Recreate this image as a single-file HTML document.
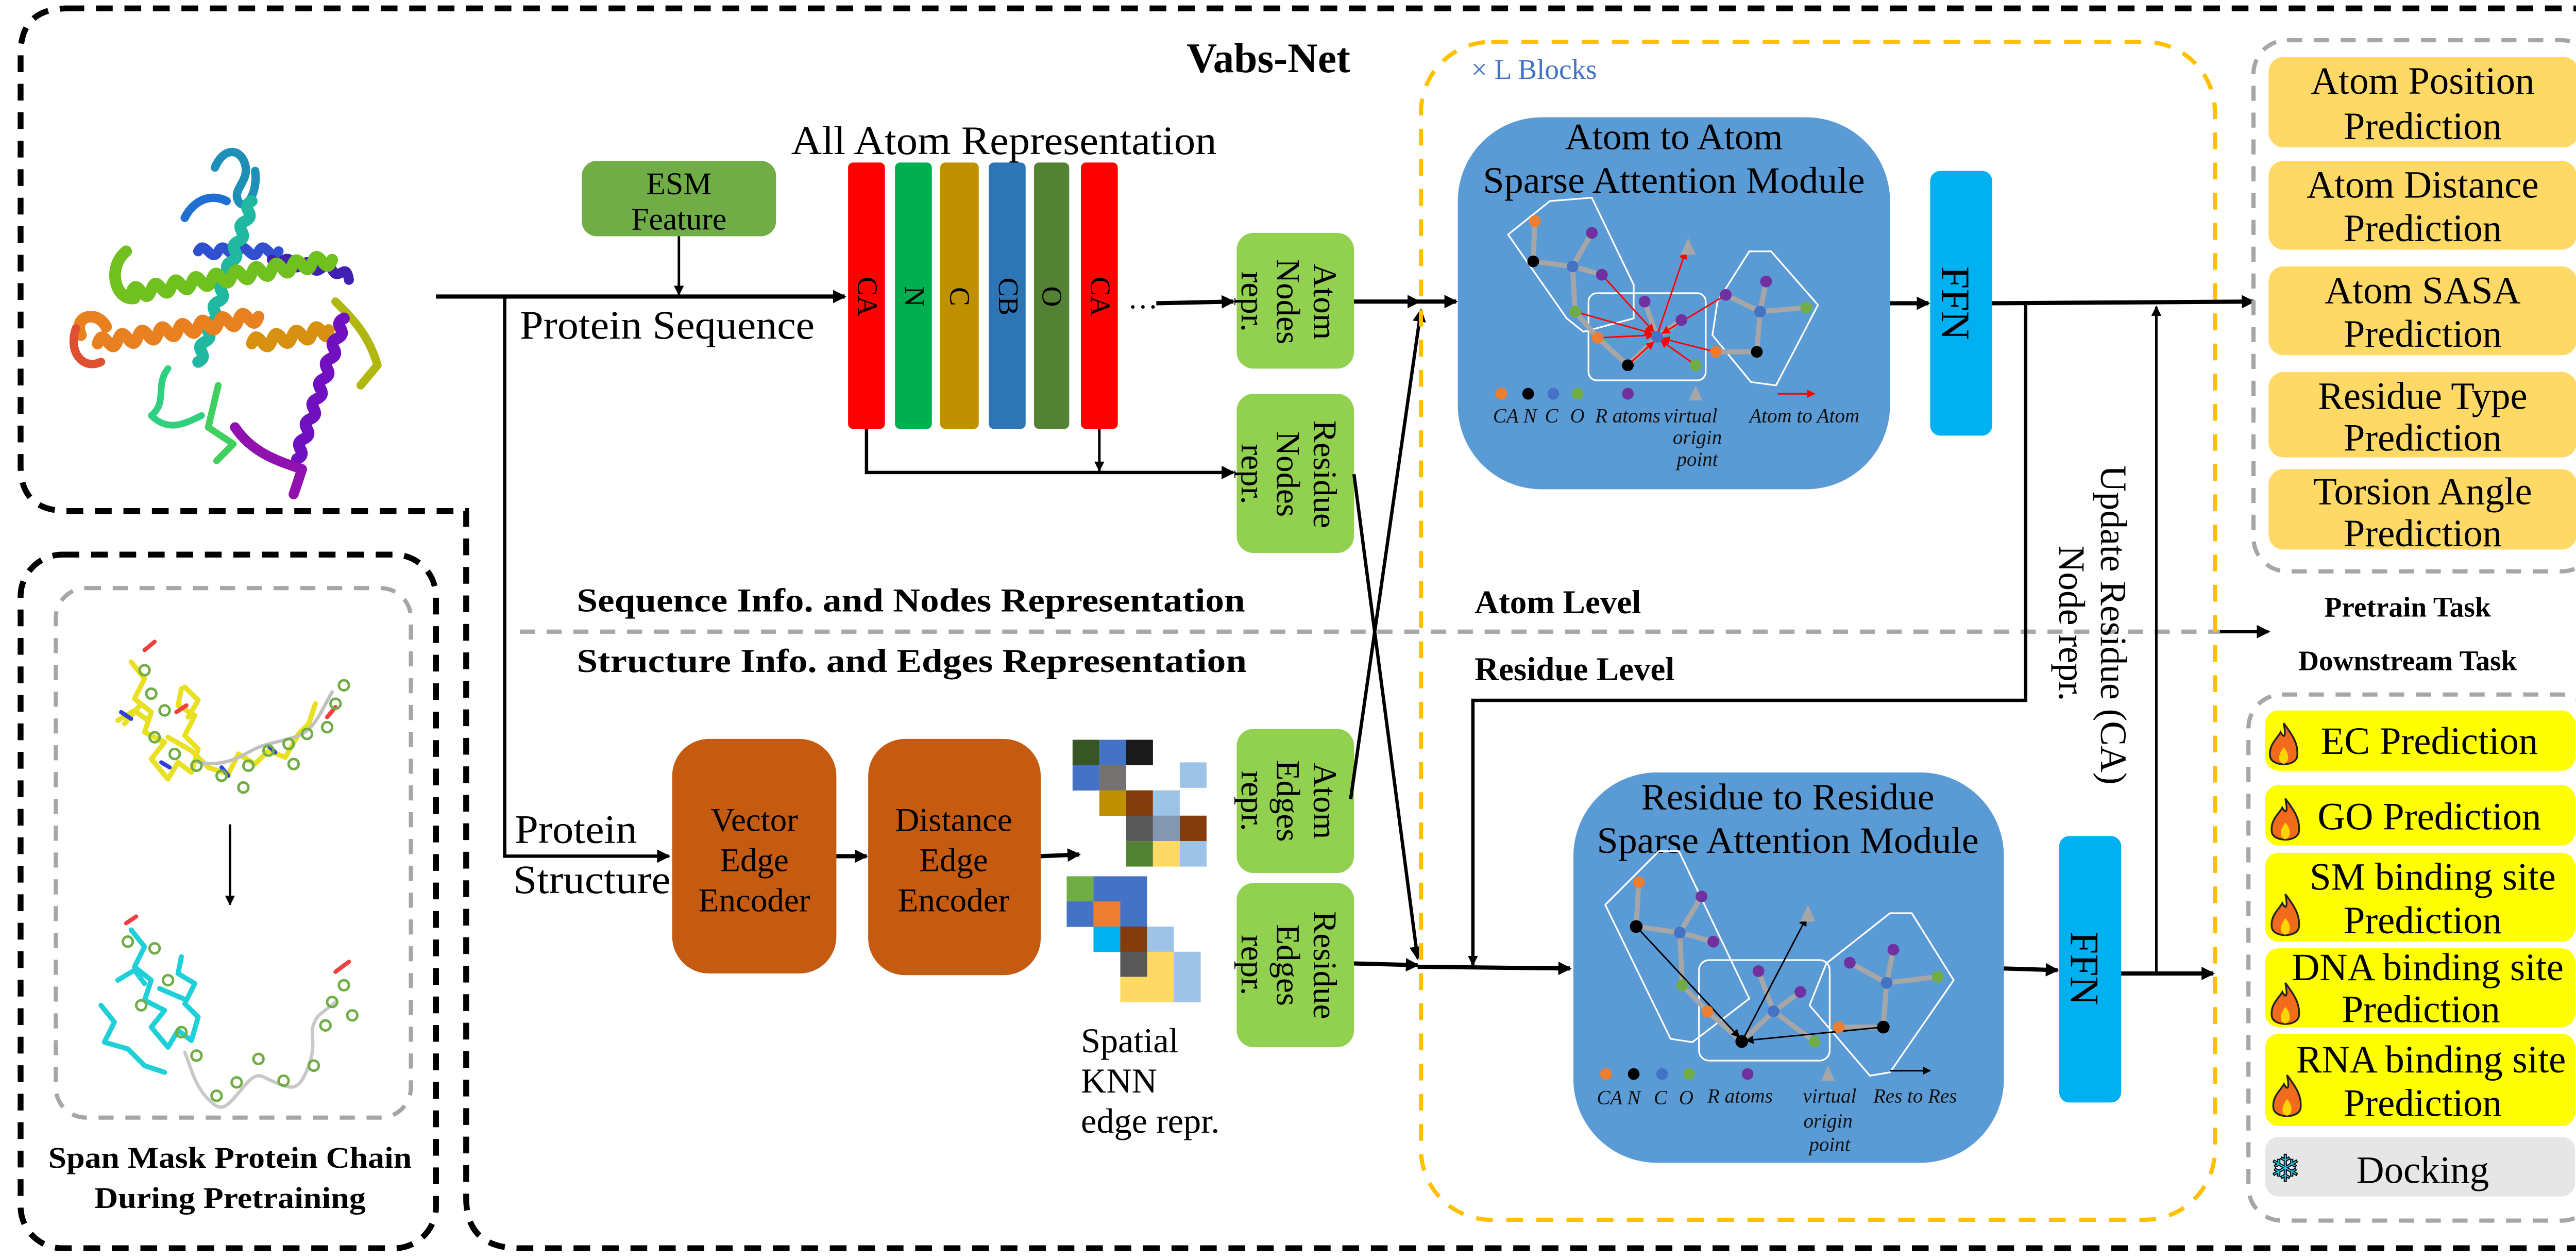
<!DOCTYPE html>
<html><head><meta charset="utf-8"><style>
html,body{margin:0;padding:0;background:#fff;}
svg{display:block;}
text{font-family:"Liberation Serif",serif;}
.b{font-weight:bold;}
.it{font-style:italic;font-size:12px;fill:#111;}
</style></head><body>
<svg width="5100" height="2445" viewBox="0 0 1568 752" xmlns="http://www.w3.org/2000/svg">
<defs>
<marker id="ah" markerWidth="8" markerHeight="8" refX="7" refY="4" orient="auto" markerUnits="userSpaceOnUse"><path d="M0,0 L8,4 L0,8 Z" fill="#000"/></marker>
<marker id="ahs" markerWidth="6" markerHeight="6" refX="5.5" refY="3" orient="auto" markerUnits="userSpaceOnUse"><path d="M0,0 L6,3 L0,6 Z" fill="#000"/></marker>
<marker id="ahr" markerWidth="5" markerHeight="5" refX="4.5" refY="2.5" orient="auto" markerUnits="userSpaceOnUse"><path d="M0,0 L5,2.5 L0,5 Z" fill="#f00"/></marker>
<marker id="ahk" markerWidth="5" markerHeight="5" refX="4.5" refY="2.5" orient="auto" markerUnits="userSpaceOnUse"><path d="M0,0 L5,2.5 L0,5 Z" fill="#000"/></marker>
<g id="fire"><path d="M0,-16 C6,-8 10,-2 9,6 C8,13 -8,13 -9,6 C-10,-2 -4,-6 -2,-10 C0,-6 2,-6 0,-16 Z" fill="#f26a1b" stroke="#222" stroke-width="1.2"/><path d="M0,0 C4,4 4,10 0,11 C-4,10 -4,5 0,0 Z" fill="#ffd400"/></g>
</defs>

<path d="M40,5 H1535 Q1562,5 1562,35 V718 Q1562,745 1535,745 H310 Q278,745 278,715 V305 H40 Q12,305 12,278 V32 Q12,5 40,5 Z" fill="none" stroke="#000" stroke-width="3.5" stroke-dasharray="10,7"/>
<rect x="12" y="331" width="248" height="414" rx="25" fill="none" stroke="#000" stroke-width="3.5" stroke-dasharray="10,7"/>
<rect x="33" y="351" width="212" height="316" rx="18" fill="none" stroke="#a6a6a6" stroke-width="2.5" stroke-dasharray="9,7"/>

<text x="757" y="43" class="b" font-size="25" text-anchor="middle">Vabs-Net</text>

<!-- protein cartoon -->
<g fill="none" stroke-width="5" stroke-linecap="round" stroke-linejoin="round">
<path d="M128,100 c5,-12 15,-12 18,-2 s-8,15 -4,22 s12,-5 10,-18" stroke="#1f8fb8"/>
<path d="M110,130 c5,-10 15,-15 25,-10" stroke="#1f6fd0"/>
<path d="M118,150 c4,-8 8,8 12,0 s8,8 12,0 s8,8 12,0 s8,8 12,0" stroke="#3050d0" stroke-width="6"/>
<path d="M150,120 c-8,4 4,8 -4,12 s4,8 -4,12 s4,8 -4,12 s4,8 -4,12 s4,8 -4,12 s4,8 -4,12 s4,8 -4,12 s4,8 -4,12" stroke="#20b8a0" stroke-width="7"/>
<path d="M162,155 c4,8 8,-6 12,2 s8,-6 12,2 s8,-6 12,2 s8,-6 10,6" stroke="#4020b0" stroke-width="6"/>
<path d="M75,150 c-12,10 -6,30 5,28 M78,175 c4,-12 8,10 12,-2 s8,10 12,-2 s8,10 12,-2 s8,10 12,-2 s8,10 12,-2 s8,10 12,-2 s8,10 12,-2 s8,10 12,-2 s8,10 12,-2 s8,10 12,-2" stroke="#70c020" stroke-width="7"/>
<path d="M200,180 c10,10 20,20 25,38 l-10,12" stroke="#b0b810" stroke-width="5"/>
<path d="M48,200 c-5,-12 10,-15 15,-5 M58,205 c4,-12 8,10 12,-2 s8,10 12,-2 s8,10 12,-2 s8,10 12,-2 s8,10 12,-2 s8,10 12,-2 s8,10 12,-2 s8,10 12,-2" stroke="#e88020" stroke-width="7"/>
<path d="M45,196 c-5,15 5,25 15,20" stroke="#e05030" stroke-width="5"/>
<path d="M150,205 c4,-12 8,10 12,-2 s8,10 12,-2 s8,10 12,-2 s8,10 10,-2" stroke="#d89010" stroke-width="7"/>
<path d="M205,190 c-8,4 4,8 -4,12 s4,8 -4,12 s4,8 -4,12 s4,8 -4,12 s4,8 -4,12 s4,8 -4,12 s4,8 -4,12" stroke="#7010c0" stroke-width="7"/>
<path d="M140,255 c10,15 25,20 40,25 l-5,15" stroke="#9010b0" stroke-width="6"/>
<path d="M100,220 c-8,10 0,20 -10,28 c10,10 20,5 30,0" stroke="#30d080" stroke-width="4"/>
<path d="M130,230 l-6,25 l15,10 l-10,10" stroke="#40d060" stroke-width="4"/>
</g>

<line x1="260" y1="177" x2="504" y2="177" stroke="#000" stroke-width="2.5" marker-end="url(#ah)"/>
<polyline points="301,177 301,511 399,511" fill="none" stroke="#000" stroke-width="2" marker-end="url(#ah)"/>
<rect x="347" y="96" width="116" height="45" rx="9" fill="#70ad47"/>
<text x="405" y="116" font-size="19" text-anchor="middle">ESM</text>
<text x="405" y="137" font-size="19" text-anchor="middle">Feature</text>
<line x1="405" y1="141" x2="405" y2="176" stroke="#000" stroke-width="1.5" marker-end="url(#ahs)"/>
<text x="310" y="202" font-size="24" textLength="176" lengthAdjust="spacingAndGlyphs">Protein Sequence</text>
<text x="472" y="92" font-size="24" textLength="254" lengthAdjust="spacingAndGlyphs">All Atom Representation</text>

<rect x="506" y="97" width="22" height="159" rx="3" fill="#ff0000"/>
<rect x="534" y="97" width="22" height="159" rx="3" fill="#00b050"/>
<rect x="561" y="97" width="23" height="159" rx="3" fill="#bf9000"/>
<rect x="590" y="97" width="22" height="159" rx="3" fill="#2e75b6"/>
<rect x="617" y="97" width="21" height="159" rx="3" fill="#548235"/>
<rect x="645" y="97" width="22" height="159" rx="3" fill="#ff0000"/>
<g font-size="17">
<text transform="translate(512,177) rotate(90)" text-anchor="middle">CA</text>
<text transform="translate(540,177) rotate(90)" text-anchor="middle">N</text>
<text transform="translate(567,177) rotate(90)" text-anchor="middle">C</text>
<text transform="translate(596,177) rotate(90)" text-anchor="middle">CB</text>
<text transform="translate(622,177) rotate(90)" text-anchor="middle">O</text>
<text transform="translate(651,177) rotate(90)" text-anchor="middle">CA</text>
</g>
<text x="673" y="184" font-size="18">…</text>
<line x1="690" y1="181" x2="736" y2="180" stroke="#000" stroke-width="2.5" marker-end="url(#ah)"/>
<polyline points="517,256 517,282 736,282" fill="none" stroke="#000" stroke-width="2" marker-end="url(#ah)"/>
<line x1="656" y1="256" x2="656" y2="281" stroke="#000" stroke-width="1.5" marker-end="url(#ahs)"/>

<g fill="#92d050">
<rect x="738" y="139" width="70" height="81" rx="10"/>
<rect x="738" y="235" width="70" height="95" rx="10"/>
<rect x="738" y="435" width="70" height="86" rx="10"/>
<rect x="738" y="527" width="70" height="98" rx="10"/>
</g>
<g font-size="20" text-anchor="middle">
<text transform="translate(784,180) rotate(90)">Atom</text>
<text transform="translate(762,180) rotate(90)">Nodes</text>
<text transform="translate(741,180) rotate(90)">repr.</text>
<text transform="translate(784,283) rotate(90)">Residue</text>
<text transform="translate(762,283) rotate(90)">Nodes</text>
<text transform="translate(741,283) rotate(90)">repr.</text>
<text transform="translate(784,478) rotate(90)">Atom</text>
<text transform="translate(762,478) rotate(90)">Edges</text>
<text transform="translate(741,478) rotate(90)">repr.</text>
<text transform="translate(784,576) rotate(90)">Residue</text>
<text transform="translate(762,576) rotate(90)">Edges</text>
<text transform="translate(741,576) rotate(90)">repr.</text>
</g>

<text x="344" y="365" class="b" font-size="20" textLength="399" lengthAdjust="spacingAndGlyphs">Sequence Info. and Nodes Representation</text>
<line x1="310" y1="377" x2="1325" y2="377" stroke="#a6a6a6" stroke-width="2.5" stroke-dasharray="9,7"/>
<line x1="1325" y1="377" x2="1354" y2="377" stroke="#000" stroke-width="2" marker-end="url(#ah)"/>
<text x="344" y="401" class="b" font-size="20" textLength="400" lengthAdjust="spacingAndGlyphs">Structure Info. and Edges Representation</text>

<text x="307" y="503" font-size="24" textLength="73" lengthAdjust="spacingAndGlyphs">Protein</text>
<text x="306" y="533" font-size="24" textLength="94" lengthAdjust="spacingAndGlyphs">Structure</text>

<rect x="401" y="441" width="98" height="140" rx="22" fill="#c55a11"/>
<rect x="518" y="441" width="103" height="141" rx="22" fill="#c55a11"/>
<g font-size="20" text-anchor="middle">
<text x="450" y="496">Vector</text><text x="450" y="520">Edge</text><text x="450" y="544">Encoder</text>
<text x="569" y="496">Distance</text><text x="569" y="520">Edge</text><text x="569" y="544">Encoder</text>
</g>
<line x1="499" y1="511" x2="517" y2="511" stroke="#000" stroke-width="2.5" marker-end="url(#ah)"/>
<line x1="621" y1="511" x2="644" y2="510" stroke="#000" stroke-width="2.5" marker-end="url(#ah)"/>

<g>
<rect x="640" y="441.5" width="16" height="15.2" fill="#375623"/><rect x="656" y="441.5" width="16" height="15.2" fill="#4472c4"/><rect x="672" y="441.5" width="16" height="15.2" fill="#1a1a1a"/>
<rect x="640" y="456.6" width="16" height="15.2" fill="#4472c4"/><rect x="656" y="456.6" width="16" height="15.2" fill="#767171"/><rect x="704" y="455" width="16" height="15.2" fill="#9dc3e6"/>
<rect x="656" y="471.7" width="16" height="15.2" fill="#bf9000"/><rect x="672" y="471.7" width="16" height="15.2" fill="#843c0c"/><rect x="688" y="471.7" width="16" height="15.2" fill="#9dc3e6"/>
<rect x="672" y="486.8" width="16" height="15.2" fill="#595959"/><rect x="688" y="486.8" width="16" height="15.2" fill="#8497b0"/><rect x="704" y="486.8" width="16" height="15.2" fill="#843c0c"/>
<rect x="672" y="502" width="16" height="15.2" fill="#548235"/><rect x="688" y="502" width="16" height="15.2" fill="#ffd966"/><rect x="704" y="502" width="16" height="15.2" fill="#9dc3e6"/>
<rect x="636.5" y="523" width="16" height="15.2" fill="#70ad47"/><rect x="652.5" y="523" width="32" height="15.2" fill="#4472c4"/>
<rect x="636.5" y="538" width="16" height="15.2" fill="#4472c4"/><rect x="652.5" y="538" width="16" height="15.2" fill="#ed7d31"/><rect x="668.5" y="538" width="16" height="15.2" fill="#4472c4"/>
<rect x="652.5" y="553" width="16" height="15.2" fill="#00b0f0"/><rect x="668.5" y="553" width="16" height="15.2" fill="#843c0c"/><rect x="684.5" y="553" width="16" height="15.2" fill="#9dc3e6"/>
<rect x="668.5" y="568" width="16" height="15.2" fill="#595959"/><rect x="684.5" y="568" width="16" height="15.2" fill="#ffd966"/><rect x="700.5" y="568" width="16" height="15.2" fill="#9dc3e6"/>
<rect x="668.5" y="583" width="32" height="15.2" fill="#ffd966"/><rect x="700.5" y="583" width="16" height="15.2" fill="#9dc3e6"/>
</g>
<g font-size="21">
<text x="645" y="628">Spatial</text><text x="645" y="652">KNN</text><text x="645" y="676">edge repr.</text>
</g>

<line x1="808" y1="180" x2="847" y2="180" stroke="#000" stroke-width="2.5" marker-end="url(#ah)"/>
<line x1="847" y1="180" x2="869" y2="180" stroke="#000" stroke-width="2.5" marker-end="url(#ah)"/>
<line x1="808" y1="283" x2="846" y2="572" stroke="#000" stroke-width="2" marker-end="url(#ah)"/>
<line x1="806" y1="477" x2="848" y2="185" stroke="#000" stroke-width="2" marker-end="url(#ah)"/>
<line x1="808" y1="575" x2="846" y2="576" stroke="#000" stroke-width="2.5" marker-end="url(#ah)"/>
<line x1="846" y1="577" x2="937" y2="578" stroke="#000" stroke-width="2.5" marker-end="url(#ah)"/>

<rect x="848" y="25" width="474" height="703" rx="42" fill="none" stroke="#ffc000" stroke-width="2.5" stroke-dasharray="10,8"/>
<text x="878" y="47" font-size="17" fill="#4472c4">× L Blocks</text>
<text x="880" y="366" class="b" font-size="20">Atom Level</text>
<text x="880" y="406" class="b" font-size="20">Residue Level</text>

<!-- atom module -->
<rect x="870" y="70" width="258" height="222" rx="50" fill="#5b9bd5"/>
<text x="999" y="89" font-size="22" text-anchor="middle" textLength="130" lengthAdjust="spacingAndGlyphs">Atom to Atom</text>
<text x="999" y="115" font-size="22" text-anchor="middle" textLength="228" lengthAdjust="spacingAndGlyphs">Sparse Attention Module</text>
<g fill="none" stroke="#fff" stroke-width="1" stroke-linejoin="round">
<path d="M925,120 L950,118 L975,170 L975,190 L945,198 L935,190 L900,140 Z"/>
<rect x="948" y="175" width="70" height="52" rx="5"/>
<path d="M1044,150 L1057,150 L1085,182 L1060,230 L1045,228 L1022,200 L1025,180 Z"/>
</g>
<path d="M916,132 L915,156 L938.5,159 L956,164 M938.5,159 L950,139 M938.5,159 L940,186 L953.5,201.6 L971.5,218 L989,201 L981.5,180 M989,201 L1003.5,191 M1048.5,210 L1024,210 M1048.5,210 L1050.5,186 L1078,183.6 M1050.5,186 L1054,168 M1050.5,186 L1030,176" fill="none" stroke="#a6a6a6" stroke-width="3"/>
<g stroke="#f00" stroke-width="0.9" marker-end="url(#ahr)">
<line x1="953.5" y1="201.6" x2="987" y2="200"/>
<line x1="940" y1="186" x2="986" y2="199"/>
<line x1="956" y1="164" x2="987" y2="198"/>
<line x1="1012" y1="218" x2="991" y2="203"/>
<line x1="1024" y1="210" x2="992" y2="202"/>
<line x1="1030" y1="176" x2="992" y2="199"/>
<line x1="971.5" y1="218" x2="987" y2="204"/>
<line x1="989" y1="200" x2="1006" y2="150"/>
</g>
<polygon points="1007.5,142 1003,152 1012,152" fill="#a6a6a6"/>
<g>
<circle cx="916" cy="132" r="3.5" fill="#ed7d31"/><circle cx="950" cy="139" r="3.5" fill="#7030a0"/><circle cx="915" cy="156" r="3.5" fill="#000"/><circle cx="938.5" cy="159" r="3.5" fill="#4472c4"/><circle cx="956" cy="164" r="3.5" fill="#7030a0"/><circle cx="940" cy="186" r="3.5" fill="#70ad47"/><circle cx="953.5" cy="201.6" r="3.5" fill="#ed7d31"/><circle cx="971.5" cy="218" r="3.5" fill="#000"/><circle cx="989" cy="201" r="3.5" fill="#4472c4"/><circle cx="981.5" cy="180" r="3.5" fill="#7030a0"/><circle cx="1003.5" cy="191" r="3.5" fill="#7030a0"/><circle cx="1012" cy="218" r="3.5" fill="#70ad47"/><circle cx="1024" cy="210" r="3.5" fill="#ed7d31"/><circle cx="1048.5" cy="210" r="3.5" fill="#000"/><circle cx="1050.5" cy="186" r="3.5" fill="#4472c4"/><circle cx="1030" cy="176" r="3.5" fill="#7030a0"/><circle cx="1054" cy="168" r="3.5" fill="#7030a0"/><circle cx="1078" cy="183.6" r="3.5" fill="#70ad47"/>
<circle cx="896" cy="235" r="3.5" fill="#ed7d31"/><circle cx="912" cy="235" r="3.5" fill="#000"/><circle cx="927" cy="235" r="3.5" fill="#4472c4"/><circle cx="941.5" cy="235" r="3.5" fill="#70ad47"/><circle cx="971.5" cy="235" r="3.5" fill="#7030a0"/>
<polygon points="1012,230 1008,239 1016,239" fill="#a6a6a6"/>
<line x1="1061" y1="235" x2="1083" y2="235" stroke="#f00" stroke-width="1" marker-end="url(#ahr)"/>
</g>
<g class="it">
<text x="891" y="252">CA N</text><text x="922" y="252">C</text><text x="937" y="252">O</text><text x="952" y="252">R atoms</text><text x="993" y="252">virtual</text><text x="1013" y="265" text-anchor="middle">origin</text><text x="1013" y="278" text-anchor="middle">point</text><text x="1044" y="252">Atom to Atom</text>
</g>

<rect x="1152" y="102" width="37" height="158" rx="6" fill="#00b0f0"/>
<text transform="translate(1159,181) rotate(90)" font-size="24" text-anchor="middle">FFN</text>
<line x1="1128" y1="181" x2="1151" y2="181" stroke="#000" stroke-width="2.5" marker-end="url(#ah)"/>
<line x1="1189" y1="181" x2="1345" y2="180" stroke="#000" stroke-width="2.5" marker-end="url(#ah)"/>
<polyline points="1209,181 1209,418 879,418 879,576" fill="none" stroke="#000" stroke-width="2" marker-end="url(#ahs)"/>
<line x1="1287" y1="580" x2="1287" y2="183" stroke="#000" stroke-width="1.5" marker-end="url(#ahs)"/>
<text transform="translate(1254,373) rotate(90)" font-size="22" text-anchor="middle">Update Residue (CA)</text>
<text transform="translate(1229,372) rotate(90)" font-size="22" text-anchor="middle">Node repr.</text>

<!-- residue module -->
<rect x="939" y="461" width="257" height="233" rx="50" fill="#5b9bd5"/>
<text x="1067" y="483" font-size="22" text-anchor="middle" textLength="175" lengthAdjust="spacingAndGlyphs">Residue to Residue</text>
<text x="1067" y="509" font-size="22" text-anchor="middle" textLength="228" lengthAdjust="spacingAndGlyphs">Sparse Attention Module</text>
<g fill="none" stroke="#fff" stroke-width="1" stroke-linejoin="round">
<path d="M990,508 L1002,508 L1044,596 L1010,622 L997,620 L958,540 Z"/>
<rect x="1014" y="573" width="78" height="60" rx="6"/>
<path d="M1128,545 L1141,545 L1166,585 L1128,640 L1116,642 L1080,600 L1090,575 Z"/>
</g>
<path d="M978,526.6 L976.5,553 L1002.5,556.6 L1022.5,562 M1002.5,556.6 L1015.5,535 M1002.5,556.6 L1004,588 L1019,603.6 L1039.5,621.6 L1058.5,603.6 L1049.5,579.6 M1058.5,603.6 L1074.5,592 M1058.5,603.6 L1083,621.6 M1124,613 L1097.5,613 M1124,613 L1126,586.6 L1156.5,583 M1126,586.6 L1130,566.8 M1126,586.6 L1104,574.6" fill="none" stroke="#a6a6a6" stroke-width="3"/>
<g stroke="#000" stroke-width="0.9" marker-end="url(#ahk)">
<line x1="976.5" y1="553" x2="1038" y2="619"/>
<line x1="1124" y1="613" x2="1042" y2="621"/>
<line x1="1039.5" y1="621.6" x2="1078" y2="548"/>
</g>
<polygon points="1079,540 1074.5,550 1083.5,550" fill="#a6a6a6"/>
<g>
<circle cx="978" cy="526.6" r="3.5" fill="#ed7d31"/><circle cx="1015.5" cy="535" r="3.5" fill="#7030a0"/><circle cx="976.5" cy="553" r="3.8" fill="#000"/><circle cx="1002.5" cy="556.6" r="3.5" fill="#4472c4"/><circle cx="1022.5" cy="562" r="3.5" fill="#7030a0"/><circle cx="1004" cy="588" r="3.5" fill="#70ad47"/><circle cx="1019" cy="603.6" r="3.5" fill="#ed7d31"/><circle cx="1058.5" cy="603.6" r="3.5" fill="#4472c4"/><circle cx="1049.5" cy="579.6" r="3.5" fill="#7030a0"/><circle cx="1074.5" cy="592" r="3.5" fill="#7030a0"/><circle cx="1039.5" cy="621.6" r="3.8" fill="#000"/><circle cx="1083" cy="621.6" r="3.5" fill="#70ad47"/><circle cx="1097.5" cy="613" r="3.5" fill="#ed7d31"/><circle cx="1124" cy="613" r="3.8" fill="#000"/><circle cx="1126" cy="586.6" r="3.5" fill="#4472c4"/><circle cx="1104" cy="574.6" r="3.5" fill="#7030a0"/><circle cx="1130" cy="566.8" r="3.5" fill="#7030a0"/><circle cx="1156.5" cy="583" r="3.5" fill="#70ad47"/>
<circle cx="958.5" cy="641" r="3.5" fill="#ed7d31"/><circle cx="975" cy="641" r="3.5" fill="#000"/><circle cx="992" cy="641" r="3.5" fill="#4472c4"/><circle cx="1008" cy="641" r="3.5" fill="#70ad47"/><circle cx="1043" cy="641" r="3.5" fill="#7030a0"/>
<polygon points="1091,636 1087,645 1095,645" fill="#a6a6a6"/>
<line x1="1128" y1="639" x2="1152" y2="639" stroke="#000" stroke-width="1" marker-end="url(#ahk)"/>
</g>
<g class="it">
<text x="953" y="659">CA N</text><text x="987" y="659">C</text><text x="1002" y="659">O</text><text x="1019" y="658">R atoms</text><text x="1076" y="658">virtual</text><text x="1091" y="673" text-anchor="middle">origin</text><text x="1092" y="687" text-anchor="middle">point</text><text x="1118" y="658">Res to Res</text>
</g>

<rect x="1229" y="499" width="37" height="159" rx="6" fill="#00b0f0"/>
<text transform="translate(1236,578) rotate(90)" font-size="24" text-anchor="middle">FFN</text>
<line x1="1196" y1="578" x2="1228" y2="579" stroke="#000" stroke-width="2.5" marker-end="url(#ah)"/>
<line x1="1266" y1="581" x2="1321" y2="581" stroke="#000" stroke-width="2.5" marker-end="url(#ah)"/>

<!-- pretrain -->
<rect x="1345" y="24" width="204" height="317" rx="20" fill="none" stroke="#a6a6a6" stroke-width="2.5" stroke-dasharray="9,7"/>
<g fill="#ffd966">
<rect x="1354" y="34" width="185" height="54" rx="9"/>
<rect x="1354" y="96" width="184" height="53" rx="9"/>
<rect x="1354" y="159" width="184" height="53" rx="9"/>
<rect x="1354" y="222" width="184" height="51" rx="9"/>
<rect x="1354" y="280" width="184" height="48" rx="9"/>
</g>
<g font-size="23" text-anchor="middle">
<text x="1446" y="56">Atom Position</text><text x="1446" y="83">Prediction</text>
<text x="1446" y="118">Atom Distance</text><text x="1446" y="144">Prediction</text>
<text x="1446" y="181">Atom SASA</text><text x="1446" y="207">Prediction</text>
<text x="1446" y="244">Residue Type</text><text x="1446" y="269">Prediction</text>
<text x="1446" y="301">Torsion Angle</text><text x="1446" y="326">Prediction</text>
</g>
<text x="1437" y="368" class="b" font-size="17" text-anchor="middle">Pretrain Task</text>
<text x="1437" y="400" class="b" font-size="17" text-anchor="middle">Downstream Task</text>

<rect x="1342" y="414.5" width="207" height="314" rx="20" fill="none" stroke="#a6a6a6" stroke-width="2.5" stroke-dasharray="9,7"/>
<g fill="#ffff00">
<rect x="1352" y="424" width="185" height="36" rx="8"/>
<rect x="1352" y="468.6" width="185" height="36" rx="8"/>
<rect x="1352" y="509" width="185" height="53" rx="8"/>
<rect x="1352" y="566" width="185" height="47" rx="8"/>
<rect x="1352" y="617" width="185" height="55" rx="8"/>
</g>
<rect x="1352" y="678.5" width="185" height="35.5" rx="8" fill="#e7e6e6"/>
<use href="#fire" transform="translate(1363,446) scale(0.9)"/>
<use href="#fire" transform="translate(1364,491) scale(0.9)"/>
<use href="#fire" transform="translate(1364,548) scale(0.9)"/>
<use href="#fire" transform="translate(1364,601) scale(0.9)"/>
<use href="#fire" transform="translate(1365,656) scale(0.9)"/>
<g font-size="23" text-anchor="middle">
<text x="1450" y="450">EC Prediction</text>
<text x="1450" y="495">GO Prediction</text>
<text x="1452" y="531">SM binding site</text><text x="1446" y="557">Prediction</text>
<text x="1449" y="585">DNA binding site</text><text x="1445" y="610">Prediction</text>
<text x="1451" y="640">RNA binding site</text><text x="1446" y="666">Prediction</text>
<text x="1446" y="706">Docking</text>
</g>
<text x="1364" y="705" font-size="22" text-anchor="middle" fill="#22c8f0" stroke="#000" stroke-width="0.6" style="font-family:'DejaVu Sans',sans-serif">❄</text>

<!-- left molecules -->
<g fill="none" stroke-linecap="round" stroke-linejoin="round">
<path d="M78,395 l8,10 l-6,12 l10,8 l-4,12 l12,6 l-8,10 l10,12 l6,-10 l8,6 l4,-14 l-8,-8 l6,-12 l-10,-6 l2,-10 M100,440 l14,8 l10,10 l12,4 l6,-12 l10,6 l8,-8 l10,4 l8,-14 l6,-6 l4,-12 M70,430 l10,-6 l8,6 M84,420 l-10,12 M110,410 l8,8 l-6,10" stroke="#e8e020" stroke-width="3"/>
<path d="M86,388 l6,-5 M105,425 l6,-4 M195,428 l5,-6" stroke="#f04040" stroke-width="2.5"/>
<path d="M72,425 l6,4 M96,455 l5,3 M132,458 l4,5 M160,445 l4,4" stroke="#3040e0" stroke-width="2.5"/>
<path d="M118,455 c10,2 20,0 30,-6 s20,-6 30,-10 s14,-16 20,-26" stroke="#c0c0c0" stroke-width="2"/>
</g>
<g fill="none" stroke="#70ad47" stroke-width="1.5">
<circle cx="86" cy="400" r="3"/><circle cx="90" cy="414" r="3"/><circle cx="98" cy="424" r="3"/><circle cx="92" cy="440" r="3"/><circle cx="104" cy="450" r="3"/><circle cx="117" cy="457" r="3"/><circle cx="132" cy="463" r="3"/><circle cx="148" cy="457" r="3"/><circle cx="160" cy="448" r="3"/><circle cx="172" cy="444" r="3"/><circle cx="183" cy="438" r="3"/><circle cx="195" cy="434" r="3"/><circle cx="200" cy="420" r="3"/><circle cx="205" cy="409" r="3"/><circle cx="175" cy="456" r="3"/><circle cx="145" cy="470" r="3"/>
</g>
<line x1="137" y1="492" x2="137" y2="540" stroke="#000" stroke-width="1.5" marker-end="url(#ahs)"/>
<g fill="none" stroke-linecap="round" stroke-linejoin="round">
<path d="M78,555 l8,10 l-6,12 l10,8 l-4,12 l12,6 l-8,10 l10,12 l6,-10 l8,6 l4,-14 l-8,-8 l6,-12 l-10,-6 l2,-10 M60,600 l8,10 l-6,12 l14,4 l10,10 l12,4 M95,590 l14,6 M70,585 l10,-6 l6,8" stroke="#20d0d8" stroke-width="3"/>
<path d="M110,628 c4,10 6,20 14,28 s10,6 20,-6 s10,-8 20,-4 s14,6 20,-10 s-2,-20 6,-30 l10,-8" stroke="#c8c8c8" stroke-width="2"/>
<path d="M75,551 l6,-4 M200,580 l8,-6" stroke="#f04040" stroke-width="2.5"/>
</g>
<g fill="none" stroke="#70ad47" stroke-width="1.5">
<circle cx="76" cy="562" r="3"/><circle cx="92" cy="566" r="3"/><circle cx="100" cy="585" r="3"/><circle cx="84" cy="600" r="3"/><circle cx="108" cy="616" r="3"/><circle cx="117" cy="630" r="3"/><circle cx="129" cy="654" r="3"/><circle cx="141" cy="646" r="3"/><circle cx="154" cy="632" r="3"/><circle cx="169" cy="645" r="3"/><circle cx="187" cy="636" r="3"/><circle cx="194" cy="612" r="3"/><circle cx="198" cy="598" r="3"/><circle cx="210" cy="606" r="3"/><circle cx="205" cy="588" r="3"/>
</g>
<text x="137" y="697" class="b" font-size="18" text-anchor="middle" textLength="217" lengthAdjust="spacingAndGlyphs">Span Mask Protein Chain</text>
<text x="137" y="721" class="b" font-size="18" text-anchor="middle" textLength="162" lengthAdjust="spacingAndGlyphs">During Pretraining</text>
</svg>
</body></html>
